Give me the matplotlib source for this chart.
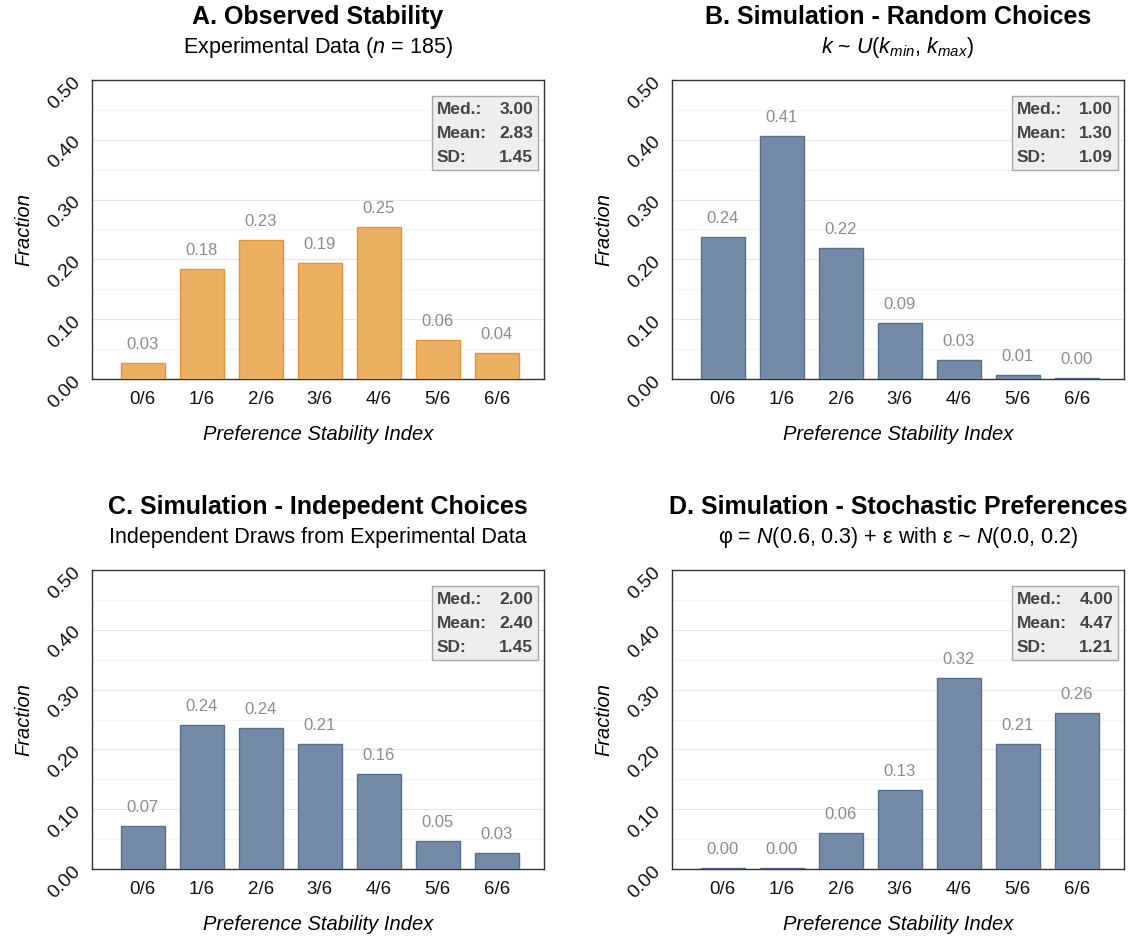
import matplotlib
matplotlib.use('Agg')
import matplotlib.pyplot as plt
from matplotlib.patches import Rectangle
from matplotlib.ticker import MultipleLocator

plt.rcParams['font.family'] = ['Liberation Sans', 'DejaVu Sans']
plt.rcParams['mathtext.fontset'] = 'custom'
plt.rcParams['mathtext.rm'] = 'Liberation Sans'
plt.rcParams['mathtext.it'] = 'Liberation Sans:italic'
plt.rcParams['mathtext.bf'] = 'Liberation Sans:bold'

# %% data
categories = ['0/6', '1/6', '2/6', '3/6', '4/6', '5/6', '6/6']

frac_a = [0.027, 0.184, 0.232, 0.194, 0.254, 0.0649, 0.043]
frac_b = [0.237, 0.406, 0.219, 0.094, 0.032, 0.007, 0.002]
frac_c = [0.072, 0.241, 0.236, 0.209, 0.159, 0.046, 0.026]
frac_d = [0.001, 0.002, 0.060, 0.132, 0.319, 0.209, 0.261]

stats_a = ['3.00', '2.83', '1.45']
stats_b = ['1.00', '1.30', '1.09']
stats_c = ['2.00', '2.40', '1.45']
stats_d = ['4.00', '4.47', '1.21']
stat_names = ['Med.:', 'Mean:', 'SD:']

titles = ['A. Observed Stability',
          'B. Simulation - Random Choices',
          'C. Simulation - Indepedent Choices',
          'D. Simulation - Stochastic Preferences']
subtitles = ['Experimental Data ($n$ = 185)',
             '$k$ ~ $U$($k_{min}$, $k_{max}$)',
             'Independent Draws from Experimental Data',
             'φ = $N$(0.6, 0.3) + ε with ε ~ $N$(0.0, 0.2)']

orange_face, orange_edge = '#ECB063', '#E3943A'
blue_face, blue_edge = '#738BA6', '#566F8E'

# %% figure
W, H = 1133, 939
fig = plt.figure(figsize=(W / 100, H / 100), dpi=100)

# axes boxes in pixels: left, top, right, bottom
boxes = [(92, 80, 544, 379), (672, 80, 1124, 379),
         (92, 570, 544, 869), (672, 570, 1124, 869)]
datasets = [frac_a, frac_b, frac_c, frac_d]
stats = [stats_a, stats_b, stats_c, stats_d]

for i in range(4):
    l, t, r, b = boxes[i]
    ax = fig.add_axes([l / W, 1 - b / H, (r - l) / W, (b - t) / H])
    x = list(range(len(categories)))
    if i == 0:
        fc, ec = orange_face, orange_edge
    else:
        fc, ec = blue_face, blue_edge
    ax.bar(x, datasets[i], width=0.75, color=fc, edgecolor=ec, linewidth=1, zorder=3)
    for xi, v in zip(x, datasets[i]):
        ax.annotate(f'{v:.2f}', (xi, v), xytext=(0, 8), textcoords='offset points',
                    ha='center', va='bottom', fontsize=12, color='#8c8c8c')

    ax.set_xlim(-0.86, 6.8)
    ax.set_ylim(0, 0.5)
    ax.set_xticks(x)
    ax.set_xticklabels(categories, fontsize=13.5)
    ax.yaxis.set_major_locator(MultipleLocator(0.1))
    ax.yaxis.set_minor_locator(MultipleLocator(0.05))
    ax.set_yticklabels([f'{v:.2f}' for v in ax.get_yticks()], rotation=45, fontsize=14)
    ax.tick_params(axis='both', which='both', length=0, colors='#111111')
    ax.tick_params(axis='x', pad=9)
    ax.tick_params(axis='y', pad=6)
    ax.grid(which='major', axis='y', color='#e6e6e6', linewidth=0.8, zorder=0)
    ax.grid(which='minor', axis='y', color='#f3f3f3', linewidth=0.8, zorder=0)
    for s in ax.spines.values():
        s.set_color('#333333')
        s.set_linewidth(1)

    ax.set_xlabel('Preference Stability Index', fontsize=14.5, style='italic', labelpad=12)
    ax.set_ylabel('Fraction', fontsize=14.5, style='italic', labelpad=8)

    ax.text(0.5, 1.21, titles[i], transform=ax.transAxes, ha='center', va='center',
            fontsize=18, fontweight='bold')
    ax.text(0.5, 1.11, subtitles[i], transform=ax.transAxes, ha='center', va='center',
            fontsize=15.5)

    # stats box
    ax.add_patch(Rectangle((0.752, 0.699), 0.234, 0.246, transform=ax.transAxes,
                           facecolor='#eeeeee', edgecolor='#a8a8a8', linewidth=1, zorder=5))
    for j, (nm, val) in enumerate(zip(stat_names, stats[i])):
        yy = 0.900 - j * 0.079
        ax.text(0.763, yy, nm, transform=ax.transAxes, ha='left', va='center',
                fontsize=12.5, fontweight='bold', color='#444444', zorder=6)
        ax.text(0.976, yy, val, transform=ax.transAxes, ha='right', va='center',
                fontsize=12.5, fontweight='bold', color='#444444', zorder=6)

plt.savefig('out.png', dpi=100)
